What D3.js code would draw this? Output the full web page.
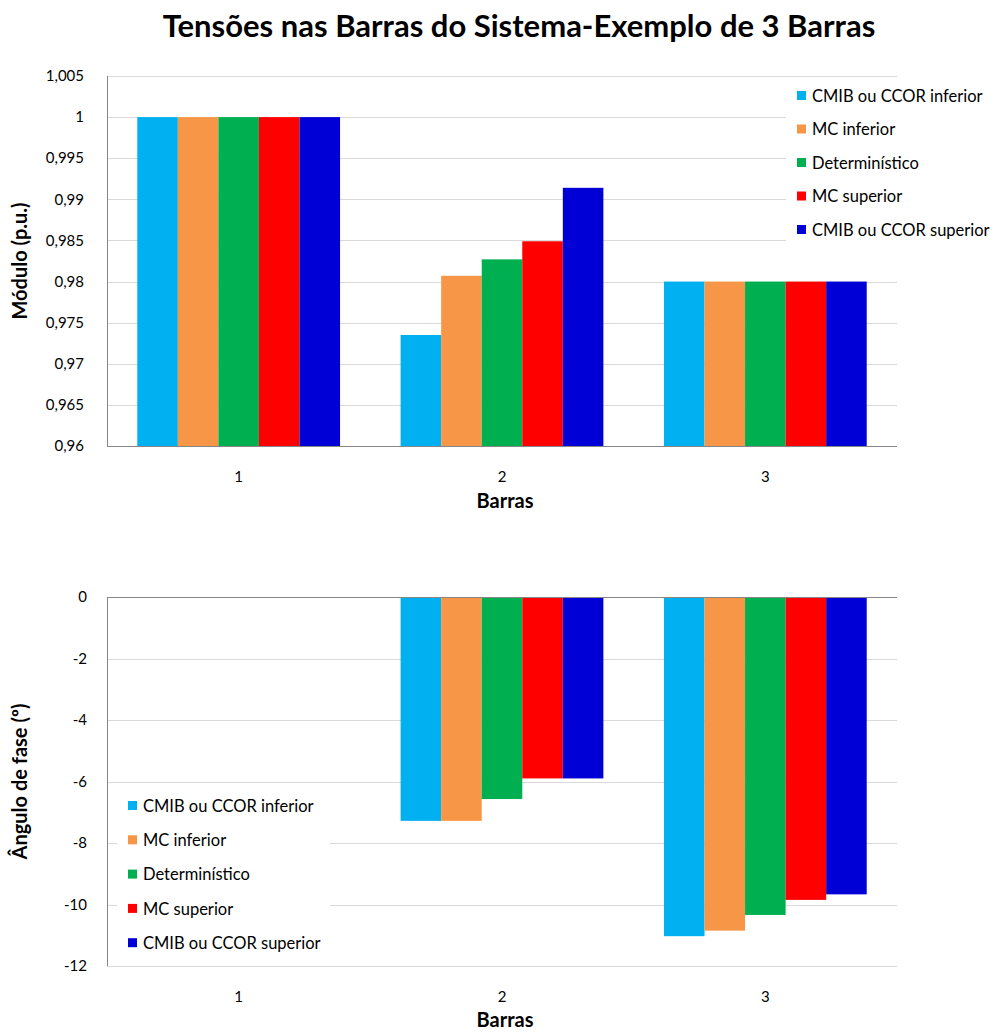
<!DOCTYPE html>
<html>
<head>
<meta charset="utf-8">
<script src="https://cdn.jsdelivr.net/npm/d3@7"></script>
<style>
  html, body { margin: 0; padding: 0; background: #fff; }
  svg { display: block; font-family: Lato, "Open Sans", sans-serif; }
</style>
</head>
<body>
<svg id="chart" width="995" height="1034"></svg>
<script>
// Bus numbers (categories) and the five result series
const categories = ["1", "2", "3"];
const seriesNames = ["CMIB ou CCOR inferior", "MC inferior", "Determinístico", "MC superior", "CMIB ou CCOR superior"];
const seriesColors = ["#00B0F0", "#F79646", "#00B050", "#FF0000", "#0000D6"];

// Voltage magnitude (p.u.) per bus
const moduloCmibInf = [1.0, 0.9735, 0.98];
const moduloMcInf   = [1.0, 0.9807, 0.98];
const moduloDet     = [1.0, 0.9827, 0.98];
const moduloMcSup   = [1.0, 0.9849, 0.98];
const moduloCmibSup = [1.0, 0.9914, 0.98];

// Voltage phase angle (degrees) per bus
const anguloCmibInf = [0, -7.28, -11.03];
const anguloMcInf   = [0, -7.28, -10.85];
const anguloDet     = [0, -6.57, -10.34];
const anguloMcSup   = [0, -5.90, -9.85];
const anguloCmibSup = [0, -5.90, -9.67];

// Axis ticks
const moduloTicks = [0.96, 0.965, 0.97, 0.975, 0.98, 0.985, 0.99, 0.995, 1.0, 1.005];
const anguloTicks = [0, -2, -4, -6, -8, -10, -12];

const moduloSeries = [moduloCmibInf, moduloMcInf, moduloDet, moduloMcSup, moduloCmibSup];
const anguloSeries = [anguloCmibInf, anguloMcInf, anguloDet, anguloMcSup, anguloCmibSup];

const svg = d3.select("#chart");
const fmt = v => String(+v.toFixed(3)).replace(".", ",");
const gridColor = "#D9D9D9";
const axisColor = "#868686";

// Title
svg.append("text")
  .attr("x", 519).attr("y", 37)
  .attr("text-anchor", "middle")
  .attr("font-size", 31).attr("font-weight", "bold")
  .attr("fill", "#000")
  .text("Tensões nas Barras do Sistema-Exemplo de 3 Barras");

function drawPanel(opts) {
  const { top, bottom, left, right, domain, ticks, series, baseValue, yTitle,
          catLabelY, xTitleY, legend, tickRight } = opts;
  const g = svg.append("g");

  const y = d3.scaleLinear().domain(domain).range([bottom, top]);
  const x0 = d3.scaleBand().domain(categories).range([left, right])
    .paddingInner(0.23).paddingOuter(0.115);
  const x1 = d3.scaleBand().domain(d3.range(seriesNames.length))
    .range([0, x0.bandwidth()]).padding(0);

  // Gridlines
  g.append("g").selectAll("line").data(ticks).join("line")
    .attr("x1", left).attr("x2", right)
    .attr("y1", d => Math.round(y(d)) + 0.5).attr("y2", d => Math.round(y(d)) + 0.5)
    .attr("stroke", gridColor).attr("stroke-width", 1);

  // Legend background hides the gridlines behind it
  g.append("rect")
    .attr("x", legend.box[0]).attr("y", legend.box[1])
    .attr("width", legend.box[2]).attr("height", legend.box[3])
    .attr("fill", "#fff");

  // Bars
  const rows = [];
  series.forEach((vals, si) => vals.forEach((v, ci) => rows.push({ si, ci, v })));
  g.append("g").selectAll("rect").data(rows).join("rect")
    .attr("x", d => x0(categories[d.ci]) + x1(d.si))
    .attr("width", x1.bandwidth())
    .attr("y", d => Math.min(y(d.v), y(baseValue)))
    .attr("height", d => Math.abs(y(d.v) - y(baseValue)))
    .attr("fill", d => seriesColors[d.si]);

  // Axis lines
  g.append("line")
    .attr("x1", left + 0.5).attr("x2", left + 0.5)
    .attr("y1", top).attr("y2", bottom)
    .attr("stroke", axisColor);
  const baseY = Math.round(y(baseValue)) + 0.5;
  g.append("line")
    .attr("x1", left).attr("x2", right)
    .attr("y1", baseY).attr("y2", baseY)
    .attr("stroke", axisColor);

  // Y tick labels
  g.append("g").selectAll("text").data(ticks).join("text")
    .attr("x", tickRight).attr("y", d => y(d))
    .attr("dy", "0.35em")
    .attr("text-anchor", "end")
    .attr("font-size", 15).attr("fill", "#000")
    .text(fmt);

  // Category labels
  g.append("g").selectAll("text").data(categories).join("text")
    .attr("x", d => x0(d) + x0.bandwidth() / 2).attr("y", catLabelY)
    .attr("text-anchor", "middle")
    .attr("font-size", 15).attr("fill", "#000")
    .text(d => d);

  // Axis titles
  g.append("text")
    .attr("x", (left + right) / 2 + 3).attr("y", xTitleY)
    .attr("text-anchor", "middle")
    .attr("font-size", 20).attr("font-weight", "bold")
    .text("Barras");
  g.append("text")
    .attr("transform", `translate(27,${(top + bottom) / 2}) rotate(-90)`)
    .attr("text-anchor", "middle")
    .attr("font-size", 20).attr("font-weight", "bold")
    .text(yTitle);

  // Legend
  const lg = g.append("g");
  const items = lg.selectAll("g").data(seriesNames).join("g")
    .attr("transform", (d, i) => `translate(${legend.x},${legend.y + i * legend.step})`);
  items.append("rect")
    .attr("x", 0).attr("y", -5).attr("width", 9).attr("height", 9)
    .attr("fill", (d, i) => seriesColors[i]);
  items.append("text")
    .attr("x", 15).attr("y", 0).attr("dy", "0.35em")
    .attr("font-size", 16.5).attr("fill", "#000")
    .text(d => d);
}

drawPanel({
  top: 76, bottom: 446, left: 107, right: 897,
  domain: [0.96, 1.005], ticks: moduloTicks, series: moduloSeries, baseValue: 0.96,
  yTitle: "Módulo (p.u.)", catLabelY: 482, xTitleY: 508, tickRight: 84,
  legend: { x: 797, y: 96, step: 33.5, box: [786, 80, 209, 166] }
});

drawPanel({
  top: 597, bottom: 966, left: 107, right: 897,
  domain: [-12, 0], ticks: anguloTicks, series: anguloSeries, baseValue: 0,
  yTitle: "Ângulo de fase (º)", catLabelY: 1002, xTitleY: 1027, tickRight: 87,
  legend: { x: 128, y: 806, step: 34.3, box: [117, 788, 213, 172] }
});
</script>
</body>
</html>
